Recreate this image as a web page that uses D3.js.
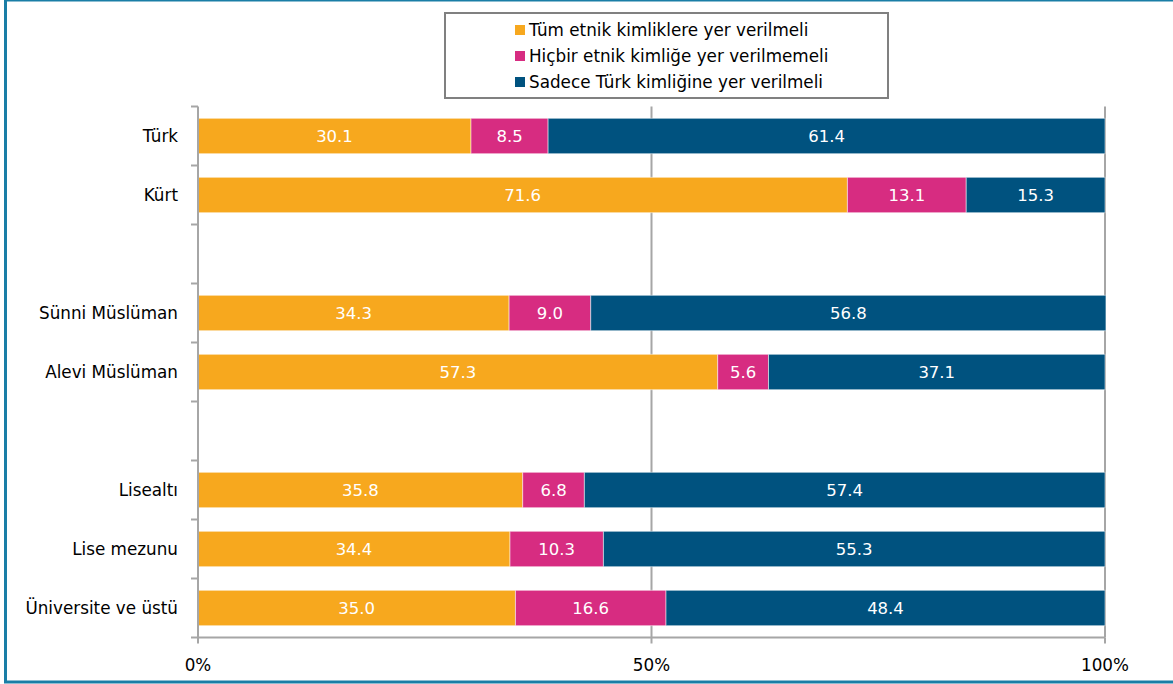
<!DOCTYPE html>
<html><head><meta charset="utf-8">
<script src="https://cdn.jsdelivr.net/npm/d3@7"></script>
<style>body{margin:0;background:#fff}svg{display:block}text{font-family:"DejaVu Sans",Verdana,sans-serif}</style>
</head><body><svg id="c" width="1173" height="684"></svg>
<script>
const categories = ["Türk","Kürt","","Sünni Müslüman","Alevi Müslüman"," ","Lisealtı","Lise mezunu","Üniversite ve üstü"];
const seriesNames = ["Tüm etnik kimliklere yer verilmeli","Hiçbir etnik kimliğe yer verilmemeli","Sadece Türk kimliğine yer verilmeli"];
const tumValues    = [30.1, 71.6, null, 34.3, 57.3, null, 35.8, 34.4, 35.0];
const hicbirValues = [8.5, 13.1, null, 9.0, 5.6, null, 6.8, 10.3, 16.6];
const sadeceValues = [61.4, 15.3, null, 56.8, 37.1, null, 57.4, 55.3, 48.4];
const xTicks = [0, 50, 100];
const xTickLabels = ["0%", "50%", "100%"];
const colors = ["#F7A81E", "#D72C81", "#00527F"];

const svg = d3.select("#c");
const W = 1173, H = 684;
const m = {left:198, right:1173-1105, top:106.5, bottom:684-637.5};

// frame
const frameColor = "#1a7ea6";
svg.append("line").attr("x1",4).attr("x2",W).attr("y1",0.75).attr("y2",0.75).attr("stroke",frameColor).attr("stroke-width",1.5);
svg.append("line").attr("x1",5.5).attr("x2",5.5).attr("y1",0).attr("y2",683).attr("stroke",frameColor).attr("stroke-width",3);
svg.append("line").attr("x1",4).attr("x2",W).attr("y1",682).attr("y2",682).attr("stroke",frameColor).attr("stroke-width",3);

const x = d3.scaleLinear().domain([0,100]).range([m.left, W-m.right]);
const y = d3.scaleBand().domain(categories).range([m.top, H-m.bottom]).paddingInner(0.4).paddingOuter(0.2);

const rows = categories.map((c,i)=>({cat:c, vals:[tumValues[i],hicbirValues[i],sadeceValues[i]]}))
  .filter(r=>r.vals[0]!==null);
const stacked = d3.stack().keys([0,1,2]).value((d,k)=>d.vals[k])(rows);

const axisColor = "#a6a6a6";
// gridlines
svg.append("g").selectAll("line").data(xTicks.filter(t=>t>0)).join("line")
  .attr("x1",d=>x(d)).attr("x2",d=>x(d)).attr("y1",m.top).attr("y2",H-m.bottom)
  .attr("stroke",axisColor).attr("stroke-width",2);

// bars
stacked.forEach((s,k)=>{
  const g = svg.append("g");
  g.selectAll("rect").data(s).join("rect")
    .attr("x",d=>x(d[0])).attr("width",d=>x(d[1])-x(d[0]))
    .attr("y",d=>y(d.data.cat)).attr("height",y.bandwidth())
    .attr("fill",colors[k]).attr("stroke","rgba(255,255,255,0.5)").attr("stroke-width",1);
  g.selectAll("text").data(s).join("text")
    .attr("x",d=>(x(d[0])+x(d[1]))/2).attr("y",d=>y(d.data.cat)+y.bandwidth()/2)
    .attr("dy","0.36em").attr("text-anchor","middle").attr("fill","#fff")
    .attr("font-size",16.5).text(d=>d.data.vals[k].toFixed(1));
});

// left axis
const step = y.step();
const bounds = d3.range(categories.length+1).map(i=>m.top+i*step);
svg.append("line").attr("x1",m.left).attr("x2",m.left).attr("y1",m.top).attr("y2",H-m.bottom)
  .attr("stroke",axisColor).attr("stroke-width",2);
svg.append("g").selectAll("line").data(bounds).join("line")
  .attr("x1",m.left-7).attr("x2",m.left).attr("y1",d=>d).attr("y2",d=>d)
  .attr("stroke",axisColor).attr("stroke-width",2);
svg.append("g").selectAll("text").data(categories.filter(c=>c.trim()!=="")).join("text")
  .attr("x",178).attr("y",d=>y(d)+y.bandwidth()/2).attr("dy","0.36em")
  .attr("text-anchor","end").attr("font-size",16.8).attr("fill","#000").text(d=>d);

// bottom axis
svg.append("line").attr("x1",m.left).attr("x2",W-m.right).attr("y1",H-m.bottom).attr("y2",H-m.bottom)
  .attr("stroke",axisColor).attr("stroke-width",2);
svg.append("g").selectAll("line").data(xTicks).join("line")
  .attr("x1",d=>x(d)).attr("x2",d=>x(d)).attr("y1",H-m.bottom).attr("y2",H-m.bottom+6)
  .attr("stroke",axisColor).attr("stroke-width",2);
svg.append("g").selectAll("text").data(xTicks).join("text")
  .attr("x",d=>x(d)).attr("y",665).attr("dy","0.36em").attr("text-anchor","middle")
  .attr("font-size",16.8).attr("fill","#000").text((d,i)=>xTickLabels[i]);

// legend
const lg = svg.append("g");
lg.append("rect").attr("x",445).attr("y",13).attr("width",443).attr("height",85)
  .attr("fill","#fff").attr("stroke","#808080").attr("stroke-width",2);
seriesNames.forEach((n,i)=>{
  const cy = 30 + i*26;
  lg.append("rect").attr("x",515).attr("y",cy-5).attr("width",10).attr("height",10).attr("fill",colors[i]);
  lg.append("text").attr("x",529).attr("y",cy).attr("dy","0.36em").attr("font-size",16.8).attr("fill","#000").text(n);
});
</script></body></html>
